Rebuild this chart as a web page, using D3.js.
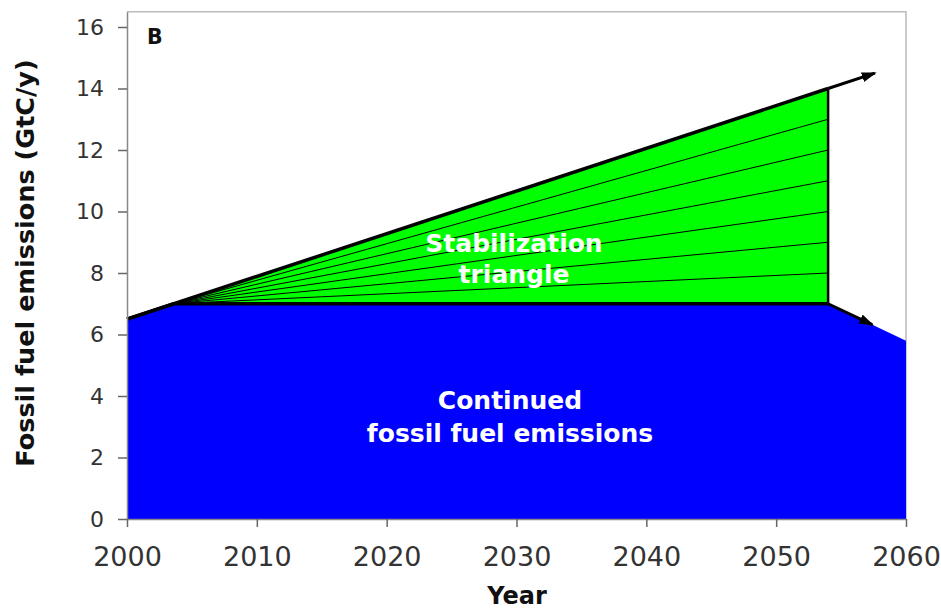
<!DOCTYPE html>
<html>
<head>
<meta charset="utf-8">
<script src="https://cdn.jsdelivr.net/npm/d3@7"></script>
<style>
  body { margin: 0; background: #fff; }
  text { font-family: "DejaVu Sans", Verdana, sans-serif; }
</style>
</head>
<body>
<script>
// values
var xTicks = [2000, 2010, 2020, 2030, 2040, 2050, 2060];
var yTicks = [0, 2, 4, 6, 8, 10, 12, 14, 16];

var bauYears = [2000, 2054];            // business as usual path
var bauValues = [6.5, 14];
var bauArrow = [2057.6, 14.5];

var flatYears = [2000, 2003.6, 2054, 2060];   // flat path
var flatValues = [6.5, 7, 7, 5.8];
var flatArrow = [2057.4, 6.32];

var wedgeTops = [8, 9, 10, 11, 12, 13];  // wedge boundaries at 2054

var w = 941, h = 611;

var x = d3.scaleLinear().domain([2000, 2060]).range([127, 906]);
var y = d3.scaleLinear().domain([0, 16.5]).range([519, 519 - 16.5 * 30.75]);

var svg = d3.select('body').append('svg')
    .attr('width', w)
    .attr('height', h);

svg.append('defs').append('marker')
    .attr('id', 'arrow')
    .attr('markerUnits', 'userSpaceOnUse')
    .attr('markerWidth', 16)
    .attr('markerHeight', 12)
    .attr('refX', 13)
    .attr('refY', 5)
    .attr('orient', 'auto')
  .append('path')
    .attr('d', 'M0,0 L15,5 L0,10 Z')
    .attr('fill', '#000');

// plot frame (top and right)
svg.append('path')
    .attr('d', 'M' + x(2000) + ',' + y(16.5) + 'H' + x(2060) + 'V' + y(0))
    .attr('fill', 'none')
    .attr('stroke', '#bbb')
    .attr('stroke-width', 1.5);

var flat = flatYears.map(function(d, i){ return [d, flatValues[i]]; });
var bau = bauYears.map(function(d, i){ return [d, bauValues[i]]; });
var apex = flat[1];
var end = flat[2][0];

// blue area: continued emissions
svg.append('path')
    .datum(flat)
    .attr('d', d3.area()
      .x(function(d){ return x(d[0]); })
      .y0(y(0))
      .y1(function(d){ return y(d[1]); }))
    .attr('fill', '#0000ff');

var line = d3.line()
    .x(function(d){ return x(d[0]); })
    .y(function(d){ return y(d[1]); });

// green stabilization triangle
svg.append('path')
    .datum([apex, [end, bauValues[1]], [end, flatValues[2]]])
    .attr('d', function(d){ return line(d) + 'Z'; })
    .attr('fill', '#00ff00');

// wedge lines
svg.selectAll('.wedge').data(wedgeTops).enter().append('path')
    .attr('class', 'wedge')
    .attr('d', function(v){ return line([apex, [end, v]]); })
    .attr('fill', 'none')
    .attr('stroke', '#000')
    .attr('stroke-width', 1);

// thick outlines
svg.append('path')
    .datum(flat.slice(0, 3))
    .attr('d', line)
    .attr('fill', 'none')
    .attr('stroke', '#000')
    .attr('stroke-width', 3.5);

svg.append('path')
    .datum(bau)
    .attr('d', line)
    .attr('fill', 'none')
    .attr('stroke', '#000')
    .attr('stroke-width', 3.5);

svg.append('path')
    .datum([[end, bauValues[1]], [end, flatValues[2]]])
    .attr('d', line)
    .attr('fill', 'none')
    .attr('stroke', '#000')
    .attr('stroke-width', 2.5);

// arrows
svg.append('path')
    .datum([bau[1], bauArrow])
    .attr('d', line)
    .attr('stroke', '#000')
    .attr('stroke-width', 3)
    .attr('marker-end', 'url(#arrow)');

svg.append('path')
    .datum([flat[2], flatArrow])
    .attr('d', line)
    .attr('stroke', '#000')
    .attr('stroke-width', 3)
    .attr('marker-end', 'url(#arrow)');

// axes
var yAxis = svg.append('g')
    .attr('transform', 'translate(' + x(2000) + ',0)')
    .call(d3.axisLeft(y).tickValues(yTicks).tickSize(9).tickSizeOuter(0).tickPadding(14));
yAxis.select('.domain').attr('stroke', '#888').attr('stroke-width', 1.5);
yAxis.selectAll('.tick line').attr('stroke', '#666').attr('stroke-width', 1.5);
yAxis.selectAll('.tick text')
    .attr('font-family', '"DejaVu Sans", Verdana, sans-serif')
    .attr('font-size', 22)
    .attr('fill', '#333');

var xAxis = svg.append('g')
    .attr('transform', 'translate(0,' + y(0) + ')')
    .call(d3.axisBottom(x).tickValues(xTicks).tickFormat(d3.format('d')).tickSize(8).tickSizeOuter(0).tickPadding(20));
xAxis.select('.domain').attr('stroke', '#888').attr('stroke-width', 1.5);
xAxis.selectAll('.tick line').attr('stroke', '#666').attr('stroke-width', 1.5);
xAxis.selectAll('.tick text')
    .attr('font-family', '"DejaVu Sans Condensed", "DejaVu Sans", sans-serif')
    .attr('font-size', 27)
    .attr('fill', '#333');

// axis titles
svg.append('text')
    .attr('transform', 'translate(34,263) rotate(-90)')
    .attr('text-anchor', 'middle')
    .attr('font-size', 25.5)
    .attr('font-weight', 'bold')
    .attr('fill', '#111')
    .text('Fossil fuel emissions (GtC/y)');

svg.append('text')
    .attr('x', 517)
    .attr('y', 604)
    .attr('text-anchor', 'middle')
    .attr('font-size', 24)
    .attr('font-weight', 'bold')
    .attr('fill', '#111')
    .text('Year');

svg.append('text')
    .attr('x', 147)
    .attr('y', 44)
    .attr('font-size', 20.5)
    .attr('font-weight', 'bold')
    .attr('fill', '#111')
    .text('B');

// region labels
var labels = [
  {t: 'Stabilization', x: 514, y: 252},
  {t: 'triangle', x: 514, y: 283},
  {t: 'Continued', x: 510, y: 409},
  {t: 'fossil fuel emissions', x: 510, y: 442}
];
svg.selectAll('.lab').data(labels).enter().append('text')
    .attr('class', 'lab')
    .attr('x', function(d){ return d.x; })
    .attr('y', function(d){ return d.y; })
    .attr('text-anchor', 'middle')
    .attr('font-size', 25)
    .attr('font-weight', 'bold')
    .attr('fill', '#fff')
    .text(function(d){ return d.t; });
</script>
</body>
</html>
